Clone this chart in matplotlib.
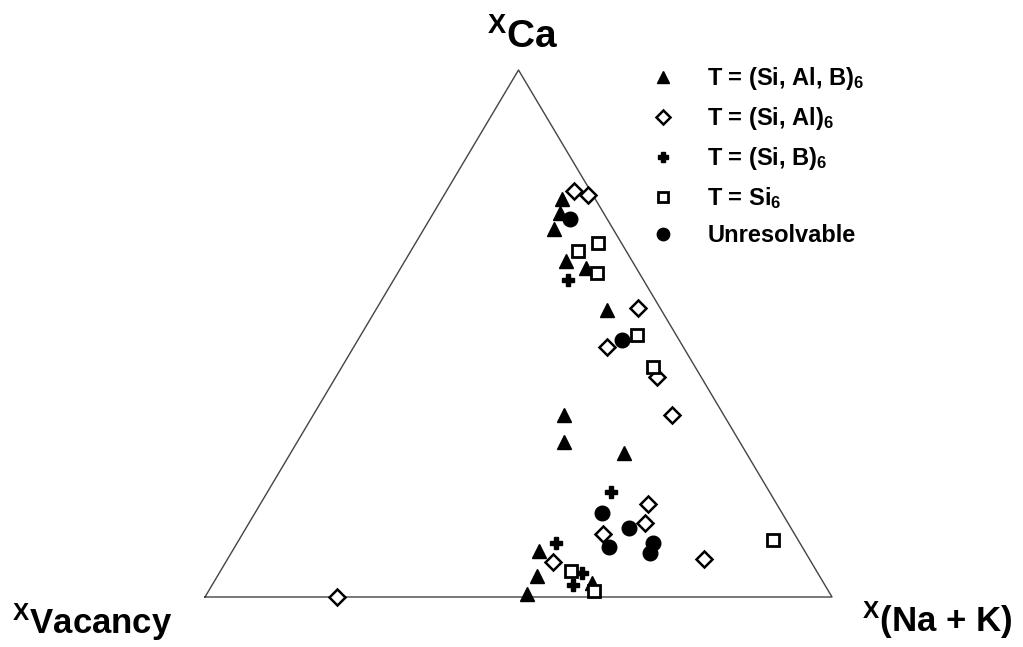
import numpy as np
import matplotlib
matplotlib.use('Agg')
import matplotlib.pyplot as plt

plt.rcParams['font.family'] = ['Liberation Sans', 'DejaVu Sans']
plt.rcParams['mathtext.fontset'] = 'custom'
plt.rcParams['mathtext.rm'] = 'Liberation Sans:bold'
plt.rcParams['mathtext.it'] = 'Liberation Sans:bold'
plt.rcParams['mathtext.bf'] = 'Liberation Sans:bold'
plt.rcParams['mathtext.default'] = 'rm'

# ternary data: fraction of Ca and of (Na + K); vacancy = 1 - Ca - NaK
tri_ca = [0.755, 0.729, 0.698, 0.638, 0.624, 0.545, 0.345, 0.294, 0.273, 0.087, 0.040, 0.006, 0.027]
tri_nak = [0.192, 0.202, 0.208, 0.257, 0.296, 0.369, 0.400, 0.426, 0.531, 0.489, 0.510, 0.511, 0.603]

dia_ca = [0.770, 0.763, 0.548, 0.474, 0.417, 0.345, 0.176, 0.140, 0.120, 0.072, 0.066, 0.000]
dia_nak = [0.204, 0.230, 0.417, 0.404, 0.512, 0.572, 0.619, 0.632, 0.575, 0.760, 0.522, 0.211]

plus_ca = [0.602, 0.199, 0.102, 0.046, 0.023]
plus_nak = [0.278, 0.548, 0.509, 0.578, 0.576]

sq_ca = [0.657, 0.672, 0.615, 0.497, 0.436, 0.108, 0.049, 0.011]
sq_nak = [0.267, 0.291, 0.318, 0.440, 0.497, 0.852, 0.559, 0.615]

cir_ca = [0.717, 0.488, 0.159, 0.131, 0.095, 0.102, 0.083]
cir_nak = [0.223, 0.421, 0.553, 0.610, 0.597, 0.664, 0.669]

labels = [r'T = (Si, Al, B)$_6$', r'T = (Si, Al)$_6$', r'T = (Si, B)$_6$',
          r'T = Si$_6$', 'Unresolvable']


def to_xy(ca, nak):
    ca = np.asarray(ca)
    nak = np.asarray(nak)
    return nak + ca / 2, ca


W, H = 1023, 647
fig = plt.figure(figsize=(W / 100, H / 100), dpi=100)
ax = fig.add_axes([205 / W, (H - 597) / H, 627 / W, 527 / H])
ax.set_xlim(0, 1)
ax.set_ylim(0, 1)
ax.axis('off')

ax.plot([0, 1, 0.5, 0], [0, 0, 1, 0], color='#444444', lw=1.0, clip_on=False)

x, y = to_xy(tri_ca, tri_nak)
ax.plot(x, y, '^', color='black', ms=10, ls='none', clip_on=False, label=labels[0])
x, y = to_xy(dia_ca, dia_nak)
ax.plot(x, y, 'D', mfc='white', mec='black', mew=1.8, ms=8.5, ls='none', clip_on=False, label=labels[1])
x, y = to_xy(plus_ca, plus_nak)
ax.plot(x, y, 'P', color='black', ms=8.5, ls='none', clip_on=False, label=labels[2])
x, y = to_xy(sq_ca, sq_nak)
ax.plot(x, y, 's', mfc='white', mec='black', mew=2, ms=9, ls='none', clip_on=False, label=labels[3])
x, y = to_xy(cir_ca, cir_nak)
ax.plot(x, y, 'o', color='black', ms=10.5, ls='none', clip_on=False, label=labels[4])

fig.legend(loc='upper left', bbox_to_anchor=(652 / W, 1 - 65 / H), frameon=False,
           prop={'weight': 'bold', 'size': 17}, handlelength=0.9, handletextpad=1.45,
           labelspacing=0.55, borderpad=0, borderaxespad=0, markerscale=0.85)

fig.text(487 / W, 1 - 48 / H, r'$^{\mathrm{X}}$Ca', ha='left', va='baseline',
         fontsize=28, fontweight='bold')
fig.text(12 / W, 1 - 634 / H, r'$^{\mathrm{X}}$Vacancy', ha='left', va='baseline',
         fontsize=25, fontweight='bold')
fig.text(862 / W, 1 - 632 / H, r'$^{\mathrm{X}}$(Na + K)', ha='left', va='baseline',
         fontsize=25, fontweight='bold')

fig.savefig('out.png', dpi=100)
